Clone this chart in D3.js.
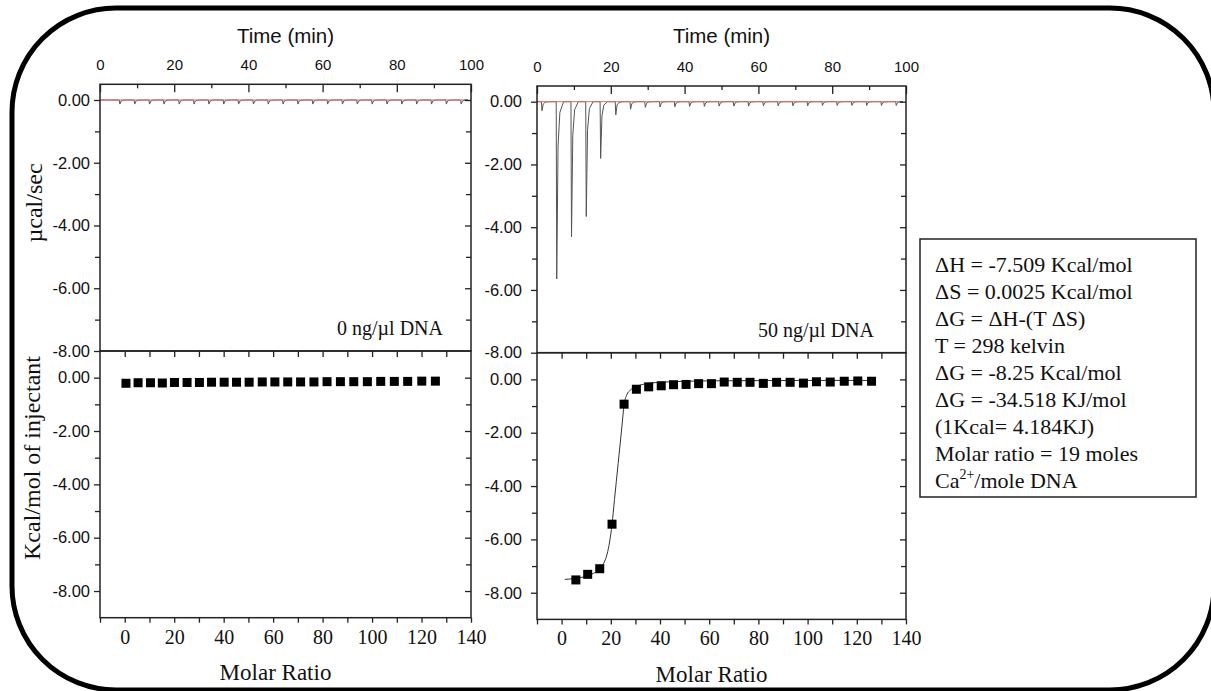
<!DOCTYPE html>
<html>
<head>
<meta charset="utf-8">
<script src="https://cdn.jsdelivr.net/npm/d3@7"></script>
<style>
  html, body { margin: 0; padding: 0; background: #fff; }
  svg { display: block; }
  .sans { font-family: "Liberation Sans", Arial, sans-serif; }
  .serif { font-family: "Liberation Serif", "Times New Roman", serif; }
</style>
</head>
<body>
<div id="chart"></div>
<script>
// tick values
const timeTicks = [0, 20, 40, 60, 80, 100];
const timeMinor = [10, 30, 50, 70, 90];
const heatTicks = [0, -2, -4, -6, -8];
const heatMinor = [-1, -3, -5, -7];
const molarTicks = [0, 20, 40, 60, 80, 100, 120, 140];
const molarMinor = [-10, 10, 30, 50, 70, 90, 110, 130];
const molarEdge = [0, 10, 20, 30, 40, 50, 60, 70, 80, 90, 100, 110, 120, 130];

// raw thermogram: injection times (min) and peak heights (µcal/sec)
const injTime = [1.2, 5.2, 9.2, 13.2, 17.1, 21.2, 25.2, 29.2, 33.2, 37.2, 41.2, 45.2, 49.2,
  53.2, 57.2, 61.2, 65.2, 69.2, 73.2, 77.2, 81.2, 85.2, 89.2, 93.2, 97.2];
const blankPeak = [0, -0.13, -0.13, -0.13, -0.13, -0.13, -0.13, -0.13, -0.13, -0.13, -0.13, -0.13, -0.13,
  -0.13, -0.13, -0.13, -0.13, -0.13, -0.13, -0.13, -0.13, -0.13, -0.13, -0.13, -0.13];
const dnaPeak = [-0.29, -5.65, -4.31, -3.66, -1.81, -0.42, -0.24, -0.18, -0.17, -0.16, -0.15, -0.15, -0.14,
  -0.14, -0.14, -0.13, -0.13, -0.13, -0.13, -0.12, -0.12, -0.12, -0.12, -0.12, -0.12];
// shape of one injection peak (time offset, fraction of peak)
const peakShapeDt = [0, 0.15, 0.5, 1.0, 2.0];
const peakShapeFrac = [0, 1, 0.25, 0.06, 0];

// integrated heats
const blankMolar = [0.5, 5.4, 10.4, 15.2, 20.1, 25.2, 30.2, 35.1, 40.2, 45.2, 50.3, 55.6, 60.7,
  65.9, 71.1, 76.5, 81.8, 87.2, 92.6, 98.1, 103.5, 109, 114.4, 120.1, 125.6];
const blankHeat = [-0.21, -0.19, -0.19, -0.20, -0.18, -0.18, -0.18, -0.17, -0.17, -0.17, -0.17, -0.16, -0.16,
  -0.16, -0.16, -0.16, -0.15, -0.15, -0.15, -0.15, -0.14, -0.14, -0.14, -0.13, -0.13];
const dnaMolar = [5.8, 10.6, 15.5, 20.5, 25.4, 30.4, 35.4, 40.5, 45.5, 50.6, 55.7, 60.9,
  66.1, 71.4, 76.6, 82, 87.4, 92.9, 98.3, 103.6, 109.2, 114.9, 120.4, 126];
const dnaHeat = [-7.52, -7.31, -7.10, -5.43, -0.93, -0.37, -0.28, -0.24, -0.20, -0.19, -0.16, -0.16,
  -0.10, -0.11, -0.11, -0.15, -0.11, -0.11, -0.14, -0.09, -0.10, -0.07, -0.06, -0.07];
// fitted curve
const fitMolar = [1.3, 5, 10, 14, 15.5, 17, 18.5, 19.5, 20.5, 21.5, 23, 24.5, 25.4, 26.5, 28, 30, 33, 37, 42, 50, 70, 100, 126];
const fitHeat = [-7.50, -7.47, -7.38, -7.22, -7.12, -6.92, -6.55, -6.1, -5.43, -4.5, -3.15, -1.78, -0.95, -0.58,
  -0.4, -0.28, -0.19, -0.13, -0.1, -0.07, -0.05, -0.04, -0.04];

const infoLines = [
  "ΔH = -7.509 Kcal/mol",
  "ΔS = 0.0025 Kcal/mol",
  "ΔG = ΔH-(T ΔS)",
  "T = 298 kelvin",
  "ΔG = -8.25 Kcal/mol",
  "ΔG = -34.518 KJ/mol",
  "(1Kcal= 4.184KJ)",
  "Molar ratio = 19 moles"
];

const width = 1211, height = 691;
const svg = d3.select("#chart").append("svg").attr("width", width).attr("height", height);

// rounded frame
svg.append("rect")
  .attr("x", 12).attr("y", 8).attr("width", 1202).attr("height", 682).attr("rx", 104)
  .attr("fill", "#fff").attr("stroke", "#000").attr("stroke-width", 5);

const panels = [
  { x0: 100, x1: 471, dy: 0, gap: 4, peaks: blankPeak, molar: blankMolar, heat: blankHeat, fit: false, note: "0 ng/µl DNA", noteX: 443 },
  { x0: 537, x1: 906, dy: 1.7, gap: 9, peaks: dnaPeak, molar: dnaMolar, heat: dnaHeat, fit: true, note: "50 ng/µl DNA", noteX: 874 }
];
const fmt = (d) => d.toFixed(2);

panels.forEach((p) => {
  const xTime = d3.scaleLinear().domain([0, 100]).range([p.x0, p.x1]);
  const xMol = d3.scaleLinear().domain([-10, 140]).range([p.x0, p.x1]);
  const yTop = d3.scaleLinear().domain([0.5, -8]).range([84.3 + p.dy, 351 + p.dy]);
  const yBot = d3.scaleLinear().domain([1, -9]).range([351 + p.dy, 617.7 + p.dy]);
  const top = yTop(0.5), mid = yTop(-8), bot = yBot(-9);
  const g = svg.append("g");

  function drawAxis(axis, tx, ty, cls, size) {
    const a = g.append("g").attr("transform", `translate(${tx},${ty})`).call(axis);
    a.select(".domain").remove();
    a.selectAll("line").attr("stroke", "#222").attr("stroke-width", 1.3);
    a.selectAll("text").attr("class", cls).attr("font-size", size).attr("fill", "#111");
    return a;
  }

  // thermogram trace
  const trace = [[0, 0]];
  injTime.forEach((t, i) => {
    peakShapeDt.forEach((dt, k) => trace.push([t + dt, p.peaks[i] * peakShapeFrac[k]]));
  });
  trace.push([98, 0]);
  g.append("path")
    .datum(trace)
    .attr("fill", "none")
    .attr("stroke", "#555")
    .attr("stroke-width", 1)
    .attr("d", d3.line().x((d) => xTime(d[0])).y((d) => yTop(d[1])));

  // baseline
  g.append("path")
    .datum([[0, 0], [98, 0]])
    .attr("fill", "none")
    .attr("stroke", "#e36b6b")
    .attr("stroke-width", 1)
    .attr("d", d3.line().x((d) => xTime(d[0])).y((d) => yTop(d[1])));

  // fit line
  if (p.fit) {
    g.append("path")
      .datum(d3.zip(fitMolar, fitHeat))
      .attr("fill", "none")
      .attr("stroke", "#333")
      .attr("stroke-width", 1)
      .attr("d", d3.line().curve(d3.curveMonotoneX).x((d) => xMol(d[0])).y((d) => yBot(d[1])));
  }

  // squares
  g.selectAll(".sq")
    .data(d3.zip(p.molar, p.heat))
    .join("rect")
    .attr("class", "sq")
    .attr("x", (d) => xMol(d[0]) - 4.5)
    .attr("y", (d) => yBot(d[1]) - 4.5)
    .attr("width", 9)
    .attr("height", 9)
    .attr("fill", "#000");

  // frames
  g.append("rect").attr("x", p.x0).attr("y", top).attr("width", p.x1 - p.x0).attr("height", mid - top)
    .attr("fill", "none").attr("stroke", "#222").attr("stroke-width", 1.5);
  g.append("rect").attr("x", p.x0).attr("y", mid).attr("width", p.x1 - p.x0).attr("height", bot - mid)
    .attr("fill", "none").attr("stroke", "#222").attr("stroke-width", 1.5);

  // time axis (top)
  drawAxis(d3.axisTop(xTime).tickValues(timeTicks).tickSize(-8).tickPadding(14).tickFormat((d) => d), 0, top, "sans", 15);
  drawAxis(d3.axisTop(xTime).tickValues(timeMinor).tickSize(-4).tickFormat(""), 0, top, "sans", 15);

  // y axes, raw panel
  drawAxis(d3.axisLeft(yTop).tickValues(heatTicks).tickSize(6).tickPadding(p.gap).tickFormat(fmt), p.x0, 0, "sans", 16.5);
  drawAxis(d3.axisLeft(yTop).tickValues(heatMinor).tickSize(5).tickFormat(""), p.x0, 0, "sans", 16);
  drawAxis(d3.axisRight(yTop).tickValues(heatTicks.slice(0, 4)).tickSize(-6).tickFormat(""), p.x1, 0, "sans", 16);
  drawAxis(d3.axisRight(yTop).tickValues(heatMinor).tickSize(-5).tickFormat(""), p.x1, 0, "sans", 16);

  // y axes, integrated panel
  drawAxis(d3.axisLeft(yBot).tickValues(heatTicks).tickSize(6).tickPadding(p.gap).tickFormat(fmt), p.x0, 0, "sans", 16.5);
  drawAxis(d3.axisLeft(yBot).tickValues(heatMinor).tickSize(5).tickFormat(""), p.x0, 0, "sans", 16);
  drawAxis(d3.axisRight(yBot).tickValues(heatTicks).tickSize(-6).tickFormat(""), p.x1, 0, "sans", 16);
  drawAxis(d3.axisRight(yBot).tickValues(heatMinor).tickSize(-5).tickFormat(""), p.x1, 0, "sans", 16);

  // molar ratio axis
  drawAxis(d3.axisBottom(xMol).tickValues(molarTicks).tickSize(5).tickPadding(6.7).tickFormat((d) => d), 0, bot, "serif", 20);
  drawAxis(d3.axisBottom(xMol).tickValues(molarMinor).tickSize(5).tickFormat(""), 0, bot, "serif", 20);
  drawAxis(d3.axisBottom(xMol).tickValues(molarEdge).tickSize(6).tickFormat(""), 0, mid, "serif", 20);

  // titles
  g.append("text").attr("class", "sans").attr("font-size", 20.5).attr("fill", "#111")
    .attr("text-anchor", "middle").attr("x", (p.x0 + p.x1) / 2).attr("y", 43)
    .text("Time (min)");
  g.append("text").attr("class", "serif").attr("font-size", 23).attr("fill", "#111")
    .attr("text-anchor", "middle").attr("x", (p.x0 + p.x1) / 2 - 10).attr("y", 680 + p.dy)
    .text("Molar Ratio");
  g.append("text").attr("class", "serif").attr("font-size", 20).attr("fill", "#111")
    .attr("text-anchor", "end").attr("x", p.noteX).attr("y", 335 + p.dy)
    .text(p.note);
});

// y titles
svg.append("text").attr("class", "serif").attr("font-size", 24).attr("fill", "#111")
  .attr("text-anchor", "middle").attr("transform", "translate(42,203) rotate(-90)")
  .text("µcal/sec");
svg.append("text").attr("class", "serif").attr("font-size", 24).attr("fill", "#111")
  .attr("text-anchor", "middle").attr("transform", "translate(40,458) rotate(-90)")
  .text("Kcal/mol of injectant");

// info box
svg.append("rect").attr("x", 920).attr("y", 239).attr("width", 276).attr("height", 258)
  .attr("fill", "#fff").attr("stroke", "#222").attr("stroke-width", 1.5);
const info = svg.append("g").attr("class", "serif").attr("font-size", 22).attr("fill", "#111");
infoLines.forEach((s, i) => {
  info.append("text").attr("x", 935).attr("y", 272 + i * 27).text(s);
});
const ca = info.append("text").attr("x", 935).attr("y", 272 + 8 * 27);
ca.append("tspan").text("Ca");
ca.append("tspan").attr("font-size", 14).attr("dy", -9).text("2+");
ca.append("tspan").attr("dy", 9).text("/mole DNA");
</script>
</body>
</html>
